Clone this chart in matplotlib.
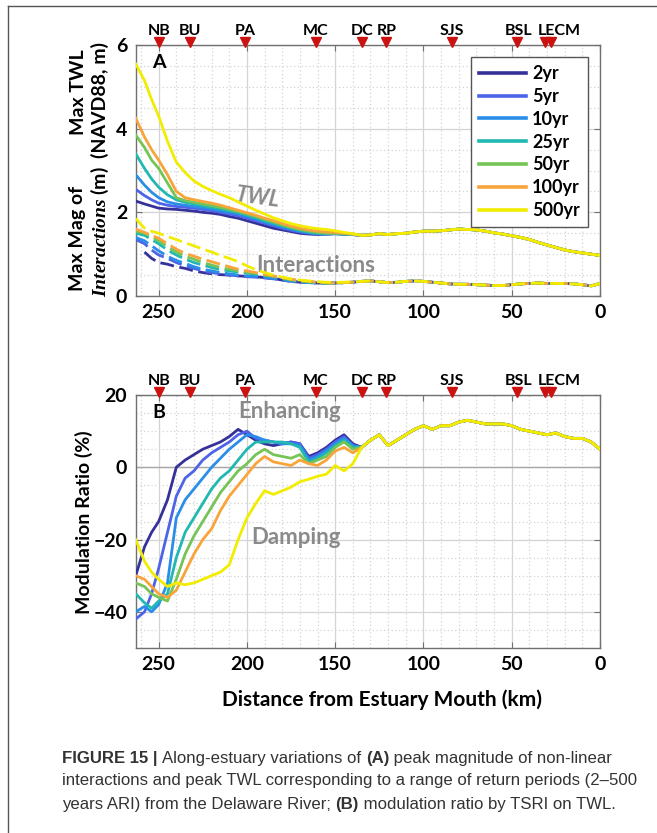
import numpy as np
import matplotlib
matplotlib.use("Agg")
import matplotlib.pyplot as plt
from matplotlib.lines import Line2D
import matplotlib.transforms as mtransforms
from matplotlib.ticker import MultipleLocator

plt.rcParams['font.family'] = ['Lato', 'DejaVu Sans']
plt.rcParams['mathtext.fontset'] = 'custom'
plt.rcParams['mathtext.it'] = 'Liberation Serif:italic:bold'
plt.rcParams['mathtext.rm'] = 'Lato:bold'

# ---------------- data ----------------
periods = ["2yr", "5yr", "10yr", "25yr", "50yr", "100yr", "500yr"]
colors = ["#35309a", "#4d63e8", "#2a8ee8", "#20b8b0", "#76c455", "#f9a43a", "#f2ec00"]

km_up = [263, 258, 254, 250, 245, 240, 235, 230, 225, 220, 215, 210, 205, 200,
         195, 190, 185, 180, 175, 170, 165, 160, 155, 150, 145, 140]
km_dn = [135, 130, 125, 120, 115, 110, 105, 100, 95, 90, 85, 80, 75, 70, 65, 60,
         55, 50, 45, 40, 35, 30, 25, 20, 15, 10, 5, 0]

# Panel A: max TWL (m), upstream part per return period
twl_2yr = [2.27, 2.2, 2.15, 2.1, 2.08, 2.07, 2.05, 2.03, 2.0, 1.98, 1.95, 1.9, 1.86, 1.8,
           1.74, 1.68, 1.62, 1.58, 1.54, 1.5, 1.48, 1.47, 1.48, 1.49, 1.48, 1.47]
twl_5yr = [2.55, 2.4, 2.3, 2.22, 2.17, 2.14, 2.12, 2.1, 2.07, 2.04, 2.0, 1.96, 1.92, 1.86,
           1.8, 1.74, 1.68, 1.62, 1.57, 1.53, 1.5, 1.48, 1.48, 1.49, 1.48, 1.47]
twl_10yr = [2.9, 2.65, 2.48, 2.35, 2.25, 2.2, 2.17, 2.14, 2.11, 2.08, 2.04, 2.0, 1.96, 1.9,
            1.84, 1.77, 1.71, 1.65, 1.6, 1.55, 1.51, 1.49, 1.48, 1.49, 1.48, 1.47]
twl_25yr = [3.4, 3.05, 2.8, 2.6, 2.42, 2.3, 2.24, 2.2, 2.16, 2.12, 2.08, 2.04, 2.0, 1.94,
            1.87, 1.8, 1.74, 1.68, 1.62, 1.57, 1.53, 1.5, 1.49, 1.49, 1.48, 1.47]
twl_50yr = [3.85, 3.55, 3.25, 3.05, 2.7, 2.35, 2.28, 2.24, 2.2, 2.16, 2.12, 2.07, 2.02, 1.96,
            1.9, 1.83, 1.77, 1.7, 1.64, 1.59, 1.55, 1.52, 1.5, 1.5, 1.49, 1.48]
twl_100yr = [4.25, 3.8, 3.5, 3.25, 2.9, 2.5, 2.35, 2.3, 2.26, 2.22, 2.17, 2.11, 2.05, 1.99,
             1.93, 1.86, 1.8, 1.73, 1.67, 1.62, 1.58, 1.55, 1.53, 1.52, 1.5, 1.48]
twl_500yr = [5.55, 5.15, 4.7, 4.3, 3.7, 3.2, 2.95, 2.75, 2.62, 2.52, 2.43, 2.35, 2.25, 2.15,
             2.05, 1.96, 1.87, 1.8, 1.73, 1.68, 1.64, 1.61, 1.59, 1.56, 1.52, 1.49]
twl_down = [1.45, 1.46, 1.49, 1.47, 1.49, 1.5, 1.53, 1.55, 1.55, 1.56, 1.58, 1.6, 1.59, 1.58,
            1.55, 1.51, 1.48, 1.44, 1.4, 1.35, 1.28, 1.22, 1.16, 1.1, 1.06, 1.03, 1.0, 0.97]

# Panel A: max magnitude of interactions (m)
int_2yr = [np.nan, 1.05, 0.9, 0.8, 0.76, 0.7, 0.66, 0.6, 0.56, 0.53, 0.51, 0.5, 0.48, 0.47,
           0.46, 0.44, 0.42, 0.38, 0.35, 0.33, 0.32, 0.31, 0.31, 0.31, 0.32, 0.33]
int_5yr = [1.35, 1.25, 1.1, 0.98, 0.9, 0.8, 0.72, 0.66, 0.6, 0.56, 0.53, 0.5, 0.48, 0.46,
           0.45, 0.43, 0.41, 0.38, 0.35, 0.33, 0.32, 0.31, 0.31, 0.31, 0.32, 0.33]
int_10yr = [1.4, 1.32, 1.2, 1.08, 0.95, 0.85, 0.78, 0.7, 0.64, 0.6, 0.56, 0.53, 0.5, 0.48,
            0.47, 0.45, 0.42, 0.39, 0.36, 0.34, 0.32, 0.31, 0.31, 0.31, 0.32, 0.33]
int_25yr = [1.5, 1.45, 1.35, 1.25, 1.1, 0.98, 0.88, 0.8, 0.74, 0.68, 0.63, 0.6, 0.57, 0.55,
            0.52, 0.49, 0.46, 0.42, 0.38, 0.35, 0.33, 0.32, 0.31, 0.31, 0.32, 0.33]
int_50yr = [1.55, 1.5, 1.42, 1.32, 1.18, 1.05, 0.95, 0.88, 0.8, 0.74, 0.68, 0.64, 0.6, 0.57,
            0.54, 0.5, 0.47, 0.43, 0.39, 0.36, 0.34, 0.32, 0.31, 0.31, 0.32, 0.33]
int_100yr = [1.6, 1.52, 1.45, 1.38, 1.25, 1.12, 1.02, 0.95, 0.88, 0.82, 0.76, 0.7, 0.64, 0.6,
             0.56, 0.52, 0.48, 0.44, 0.4, 0.37, 0.35, 0.33, 0.32, 0.31, 0.32, 0.33]
int_500yr = [1.85, 1.62, 1.55, 1.5, 1.42, 1.35, 1.27, 1.2, 1.12, 1.05, 0.97, 0.9, 0.82, 0.72,
             0.63, 0.56, 0.5, 0.45, 0.41, 0.38, 0.36, 0.34, 0.33, 0.32, 0.33, 0.34]
int_down = [0.35, 0.36, 0.34, 0.32, 0.33, 0.35, 0.36, 0.35, 0.33, 0.31, 0.29, 0.28, 0.28, 0.27,
            0.26, 0.25, 0.25, 0.27, 0.29, 0.3, 0.31, 0.3, 0.3, 0.3, 0.29, 0.27, 0.24, 0.3]

# Panel B: modulation ratio (%)
mr_2yr = [-30, -22, -18, -15, -9, 0, 2, 3.5, 5, 6, 7, 8.5, 10.5, 9, 7.5, 6.5, 6, 6.5, 7, 6.5,
          3, 4, 5.5, 7.5, 9, 6.5]
mr_5yr = [-42, -40, -35, -28, -18, -8, -3, -1, 2, 4, 5.5, 7, 9, 10, 8, 7.5, 7, 6.5, 7, 6.5,
          2.5, 3.5, 5, 7, 8.5, 6]
mr_10yr = [-40, -38.5, -40, -38, -32, -14, -9, -6, -3, 0, 2.5, 5, 7, 9, 8.5, 7.5, 7, 6.5, 6.5,
           6, 2, 3, 4.5, 6.5, 8, 6]
mr_25yr = [-35, -37.5, -39, -37, -35, -25, -18, -14, -10, -6, -3, -1, 2, 5, 7, 7, 7, 7, 6.5,
           5.5, 1.5, 2.5, 4, 6, 7.5, 5.5]
mr_50yr = [-32, -33, -35, -36, -37, -31, -24, -19, -15, -11, -7, -4, -1, 1, 3.5, 5, 3.5, 3,
           2.5, 3.5, 1, 2, 3, 5.5, 7, 5]
mr_100yr = [-30, -31, -33, -35, -36, -34, -29, -24, -20, -17, -12, -8, -5, -2, 1, 3, 1.5, 1,
            0.5, 2, 1, 0.5, 2, 4.5, 5.5, 4]
mr_500yr = [-20, -26, -29, -31, -33, -32, -32.5, -32, -31, -30, -29, -27, -20, -14, -10, -6.5,
            -7.5, -6.5, -5.5, -4, -3.3, -2.5, -1.9, 0.5, -1, 1]
mr_down = [5.5, 7.5, 9, 6, 7.5, 9, 10.5, 11.5, 10.5, 11.5, 11.5, 12.5, 13, 12.5, 12, 12, 12,
           11.5, 10.5, 10, 9.5, 9, 9.5, 8.5, 8, 8, 7, 5]

# stations (markers) and their labels
station_km = [250, 232, 201, 161, 135, 121, 84, 47, 31, 28]
station_labels = ["NB", "BU", "PA", "MC", "DC", "RP", "SJS", "BSL", "LECM"]
station_label_km = [250, 232, 201, 161, 135, 121, 84, 46, 23]

twl = [twl_2yr, twl_5yr, twl_10yr, twl_25yr, twl_50yr, twl_100yr, twl_500yr]
inter = [int_2yr, int_5yr, int_10yr, int_25yr, int_50yr, int_100yr, int_500yr]
mr = [mr_2yr, mr_5yr, mr_10yr, mr_25yr, mr_50yr, mr_100yr, mr_500yr]

# ---------------- figure ----------------
W, H = 657, 833
fig = plt.figure(figsize=(W / 100, H / 100), dpi=100)

def ax_rect(l, t, r, b):
    return [l / W, 1 - b / H, (r - l) / W, (b - t) / H]

axA = fig.add_axes(ax_rect(135.7, 45, 600, 296))
axB = fig.add_axes(ax_rect(135.7, 395, 600, 648))

x_full = km_up + km_dn
spine_col = "#707070"

def style(ax, ylim, ymaj, ymin):
    ax.set_xlim(263, 0)
    ax.set_ylim(*ylim)
    ax.xaxis.set_major_locator(MultipleLocator(50))
    ax.xaxis.set_minor_locator(MultipleLocator(10))
    ax.yaxis.set_major_locator(MultipleLocator(ymaj))
    ax.yaxis.set_minor_locator(MultipleLocator(ymin))
    ax.grid(True, which="major", color="#d4d4d4", lw=0.9, ls="-")
    ax.grid(True, which="minor", color="#d4d4d4", lw=0.9, ls=(0, (1, 2)))
    ax.set_axisbelow(True)
    for s in ax.spines.values():
        s.set_color(spine_col)
        s.set_linewidth(1.0)
    ax.tick_params(which="both", direction="in", top=True, right=True,
                   color=spine_col, labelsize=14, pad=6)
    ax.tick_params(which="major", length=4)
    ax.tick_params(which="minor", length=0)
    for lab in ax.get_xticklabels() + ax.get_yticklabels():
        lab.set_fontweight("bold")

# Panel A
for i, p in enumerate(periods):
    axA.plot(x_full, twl[i] + twl_down, color=colors[i], lw=2.0, label=p, zorder=3 + i)
for i, p in enumerate(periods):
    axA.plot(x_full, inter[i] + int_down, color=colors[i], lw=2.0,
             ls=(0, (5, 2)), zorder=3 + i)
style(axA, (0, 6), 2, 0.5)

leg = axA.legend(loc="upper right", bbox_to_anchor=(0.974, 0.952), frameon=True,
                 fancybox=False, edgecolor="#555555", framealpha=1, handlelength=2.6,
                 handletextpad=0.35, labelspacing=0.32, borderpad=0.45,
                 borderaxespad=0, prop={"weight": "bold", "size": 13})
for h in leg.get_lines():
    h.set_linewidth(2.6)
leg.get_frame().set_linewidth(1.0)

axA.text(0.036, 0.93, "A", transform=axA.transAxes, fontsize=14, fontweight="bold",
         ha="left", va="center")
axA.text(194, 2.36, "TWL", fontsize=16, fontweight="bold", style="italic",
         color="#8a8a8a", ha="center", va="center", rotation=-8)
axA.text(161, 0.74, "Interactions", fontsize=16, fontweight="bold",
         color="#8a8a8a", ha="center", va="center")

# Panel B
for i, p in enumerate(periods):
    axB.plot(x_full, mr[i] + mr_down, color=colors[i], lw=2.0, zorder=3 + i)
style(axB, (-50, 20), 20, 5)
axB.axhline(0, color="#a8a8a8", lw=1.0, zorder=2)
axB.text(0.036, 0.93, "B", transform=axB.transAxes, fontsize=14, fontweight="bold",
         ha="left", va="center")
axB.text(176, 15.3, "Enhancing", fontsize=16, fontweight="bold", color="#8a8a8a",
         ha="center", va="center")
axB.text(172, -19.3, "Damping", fontsize=16, fontweight="bold", color="#8a8a8a",
         ha="center", va="center")

# Station markers
for ax in (axA, axB):
    tr = mtransforms.blended_transform_factory(ax.transData, ax.transAxes)
    off_tri = mtransforms.offset_copy(tr, fig=fig, x=0, y=3, units="dots")
    ax.plot(station_km, [1.0] * len(station_km), ls="none", marker="v",
            color="#cc1111", markersize=6.5, clip_on=False, transform=off_tri, zorder=10)
    off_txt = mtransforms.offset_copy(tr, fig=fig, x=0, y=14, units="dots")
    for name, km in zip(station_labels, station_label_km):
        ax.text(km, 1.0, name, transform=off_txt, ha="center", va="center",
                fontsize=11.5, fontweight="bold", clip_on=False)

# Axis labels
fig.text(78 / W, 1 - 92 / H, "Max TWL", rotation=90, ha="center", va="center",
         fontsize=14, fontweight="bold")
fig.text(100 / W, 1 - 100 / H, "(NAVD88, m)", rotation=90, ha="center", va="center",
         fontsize=14, fontweight="bold")
fig.text(78 / W, 1 - 238 / H, "Max Mag of", rotation=90, ha="center", va="center",
         fontsize=14, fontweight="bold")
fig.text(100 / W, 1 - 232 / H, r"$\mathit{Interactions}$ (m)", rotation=90, ha="center",
         va="center", fontsize=14, fontweight="bold")
fig.text(84 / W, 1 - 522 / H, "Modulation Ratio (%)", rotation=90, ha="center",
         va="center", fontsize=14, fontweight="bold")
fig.text(382 / W, 1 - 700 / H, "Distance from Estuary Mouth (km)", ha="center",
         va="center", fontsize=15, fontweight="bold")

# Frame lines
fig.add_artist(Line2D([8 / W, 1], [1 - 6 / H, 1 - 6 / H], color="#555555", lw=1.0))
fig.add_artist(Line2D([8 / W, 8 / W], [0, 1 - 6 / H], color="#555555", lw=1.0))

# Caption with mixed weights
cap_lines = [
    [("FIGURE 15 | ", "bold"), ("Along-estuary variations of ", "normal"), ("(A)", "bold"),
     (" peak magnitude of non-linear", "normal")],
    [("interactions and peak TWL corresponding to a range of return periods (2\u2013500", "normal")],
    [("years ARI) from the Delaware River; ", "normal"), ("(B)", "bold"),
     (" modulation ratio by TSRI on TWL.", "normal")],
]
cap_y = [758, 781, 804]
renderer = fig.canvas.get_renderer()
cap_font = ["Liberation Sans Narrow", "Liberation Sans"]
for segs, yp in zip(cap_lines, cap_y):
    x = 62.0
    for txt, wt in segs:
        t = fig.text(x / W, 1 - yp / H, txt, ha="left", va="center", fontsize=12.1,
                     fontweight=wt, color="#333333", family=cap_font)
        bb = t.get_window_extent(renderer=renderer)
        x += bb.width

fig.savefig("out.png", dpi=100)
